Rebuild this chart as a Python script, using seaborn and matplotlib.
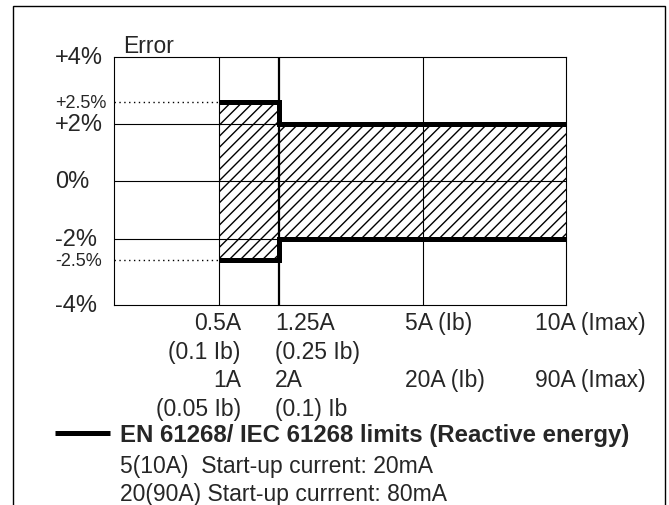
import numpy as np
import matplotlib
matplotlib.use("Agg")
import matplotlib.pyplot as plt
from matplotlib.patches import Rectangle
from matplotlib.transforms import offset_copy
import seaborn as sns

# limit curve (current in A, error in %)
limit_current = [0.5, 1.25, 1.25, 10]
limit_upper = [2.5, 2.5, 2.0, 2.0]
limit_lower = [-2.5, -2.5, -2.0, -2.0]

# hatched tolerance band, step edges
band_current = [0.5, 1.25, 10]
band_upper = [2.5, 2.0, 2.0]
band_lower = [-2.5, -2.0, -2.0]

grid_current = [0.5, 1.25, 5]
grid_error = [2, 0, -2]
y_major = [4, 2, 0, -2, -4]
y_major_labels = ["+4%", "+2%", "0%", "-2%", "-4%"]
y_minor = [2.5, -2.5]
y_minor_labels = ["+2.5%", "-2.5%"]

tick_current = [0.5, 1.25, 5, 10]
row_current_a = ["0.5A", "1.25A", "5A (Ib)", "10A (Imax)"]
row_fraction_a = ["(0.1 Ib)", "(0.25 Ib)", "", ""]
row_current_b = ["1A", "2A", "20A (Ib)", "90A (Imax)"]
row_fraction_b = ["(0.05 Ib)", "(0.1) Ib", "", ""]

legend_label = "EN 61268/ IEC 61268 limits (Reactive energy)"
notes = ["5(10A)  Start-up current: 20mA", "20(90A) Start-up currrent: 80mA"]

# the drawing is schematic, neither axis is linear in the printed values
x_knots = [0, 0.5, 1.25, 5, 10]
x_frac = [0, 0.232, 0.365, 0.684, 1.0]
y_knots = [-4, -2.5, -2, 0, 2, 2.5, 4]
y_frac = [-4.33, -2.755, -2, 0, 2, 2.755, 4.33]

sns.set_style("white")
plt.rcParams["font.family"] = ["Liberation Sans", "DejaVu Sans"]
plt.rcParams["hatch.linewidth"] = 1.0
plt.rcParams["hatch.color"] = "black"

fig = plt.figure(figsize=(6.69, 5.06), dpi=100)
ax = fig.add_axes([0.1704, 0.3943, 0.6756, 0.4911])

ax.set_xscale("function", functions=(lambda v: np.interp(v, x_knots, x_frac),
                                     lambda v: np.interp(v, x_frac, x_knots)))
ax.set_yscale("function", functions=(lambda v: np.interp(v, y_knots, y_frac),
                                     lambda v: np.interp(v, y_frac, y_knots)))
ax.set_xlim(0, 10)
ax.set_ylim(-4, 4)

# grid
for c in grid_current:
    ax.axvline(c, color="black", lw=1.6 if c == 1.25 else 0.8, zorder=1)
for v in grid_error:
    ax.axhline(v, color="black", lw=0.8, zorder=1)
ax.hlines(y_minor, 0, 0.5, colors="black", lw=1.0, linestyles=(0, (1, 2.5)), zorder=1)

# band + limits
ax.fill_between(band_current, band_lower, band_upper, step="post", facecolor="none",
                edgecolor="black", hatch="///", linewidth=0, zorder=2)
sns.lineplot(x=limit_current, y=limit_upper, sort=False, estimator=None, color="black",
             lw=3.6, solid_joinstyle="miter", solid_capstyle="butt", label=legend_label,
             ax=ax, zorder=3)
sns.lineplot(x=limit_current, y=limit_lower, sort=False, estimator=None, color="black",
             lw=3.6, solid_joinstyle="miter", solid_capstyle="butt", ax=ax, zorder=3)

ax.set_xticks([])
ax.set_yticks([])
ax.set_xlabel("")
ax.set_ylabel("")
for s in ax.spines.values():
    s.set_color("black")
    s.set_linewidth(0.8)

# y labels, left aligned
ytr = ax.get_yaxis_transform()
for v, lab in zip(y_major, y_major_labels):
    ax.text(-0.1305, v, lab, transform=ytr, ha="left", va="center", fontsize=17)
for v, lab in zip(y_minor, y_minor_labels):
    ax.text(-0.1305, v, lab, transform=ytr, ha="left", va="center", fontsize=13)
ax.text(0.02, 1.02, "Error", transform=ax.transAxes, ha="left", va="baseline", fontsize=16.5)

# x labels, four rows
rows = [row_current_a, row_fraction_a, row_current_b, row_fraction_b]
col_style = [("right", 22), ("left", -4), ("left", -18), ("left", -31)]
xtr = ax.get_xaxis_transform()
for i, row in enumerate(rows):
    for c, txt in enumerate(row):
        ha, dx = col_style[c]
        tr = offset_copy(xtr, fig=fig, x=dx, y=-(24 + 28.5 * i), units="dots")
        ax.text(tick_current[c], 0, txt, transform=tr, ha=ha, va="baseline", fontsize=16.5)

ax.legend(loc="center left", bbox_to_anchor=(55 / 669, 1 - 436 / 506),
          bbox_transform=fig.transFigure, frameon=False, borderpad=0, borderaxespad=0,
          handlelength=2.3, handletextpad=0.42, prop={"weight": "bold", "size": 17.3})
for i, note in enumerate(notes):
    fig.text(120 / 669, 1 - (473 + 28.5 * i) / 506, note, va="baseline", fontsize=16.5)

# outer frame, open at the bottom of the picture
fig.add_artist(Rectangle((12.7 / 669, -0.1), (665 - 12.7) / 669, 1.1 - 7 / 506,
                         transform=fig.transFigure, fill=False, lw=1.0,
                         edgecolor="black", clip_on=False))

fig.savefig("out.png", dpi=100)
